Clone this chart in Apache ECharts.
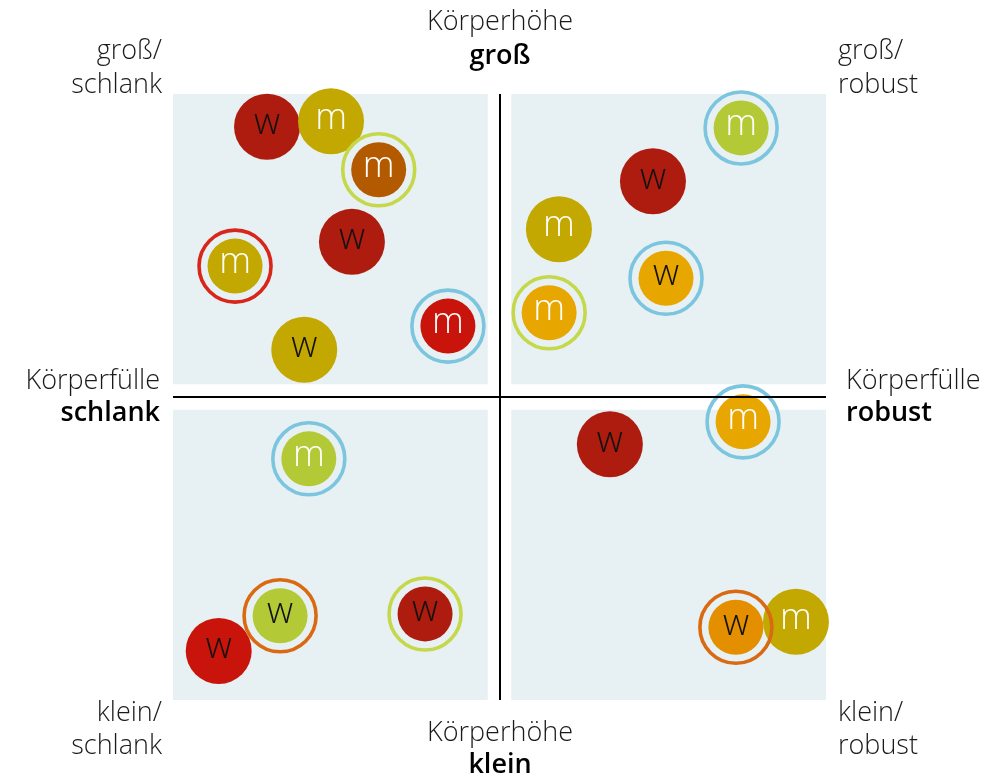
<!DOCTYPE html>
<html>
<head>
<meta charset="utf-8">
<script src="https://cdn.jsdelivr.net/npm/echarts@6/dist/echarts.min.js"></script>
<style>
  html, body { margin: 0; padding: 0; background: #fff; }
  #chart { width: 1005px; height: 781px; }
</style>
</head>
<body>
<div id="chart"></div>
<script>
// Personen: Geschlecht, Körperfülle (x), Körperhöhe (y), Farbe, Ring
const labels = ['w', 'm', 'm', 'w', 'm', 'm', 'w',
                'm', 'w', 'm', 'w', 'm',
                'm', 'w', 'w', 'w',
                'm', 'w', 'w', 'm'];
const fuelle = [14.4, 24.2, 31.5, 27.4, 9.5, 42.1, 20.1,
                87.0, 73.5, 59.1, 75.5, 57.6,
                20.8, 16.4, 7.0, 38.6,
                87.3, 66.9, 86.2, 95.4];
const hoehe = [94.6, 95.5, 87.5, 75.6, 71.6, 61.7, 57.8,
               94.4, 85.6, 77.7, 69.6, 63.9,
               39.8, 13.9, 8.1, 14.2,
               45.9, 42.2, 12.0, 12.9];
const fillKey = ['darkred', 'gold', 'brown', 'darkred', 'gold', 'red', 'gold',
                 'lime', 'darkred', 'gold', 'amber', 'amber',
                 'lime', 'lime', 'red', 'darkred',
                 'amber', 'darkred', 'orange', 'gold'];
const ringKey = [null, null, 'lime', null, 'red', 'blue', null,
                 'blue', null, null, 'blue', 'lime',
                 'blue', 'orange', null, 'lime',
                 'blue', null, 'orange', null];

const quadrants = ['I', 'II', 'III', 'IV'];

const fillColors = {
  darkred: '#AD1C0E', red: '#C8140A', gold: '#C2A800', brown: '#B35A00',
  lime: '#B3C936', amber: '#E8A600', orange: '#E48F00'
};
const ringColors = {
  blue: '#7CC5DE', lime: '#C5D84A', red: '#D8261A', orange: '#DA6A12'
};

const chart = echarts.init(document.getElementById('chart'));
const FONT = '"Open Sans", sans-serif';

const fills = labels.map((l, i) => ({
  value: [fuelle[i], hoehe[i]],
  symbolSize: ringKey[i] ? 55 : 66,
  itemStyle: { color: fillColors[fillKey[i]] },
  label: { color: l === 'm' ? '#fff' : '#111' },
  name: l
}));

const rings = labels.map((l, i) => ringKey[i] ? {
  value: [fuelle[i], hoehe[i]],
  itemStyle: { borderColor: ringColors[ringKey[i]] }
} : null).filter(d => d);

function txt(text, x, y, align, opts) {
  return {
    type: 'text', x: x, y: y, silent: true,
    style: Object.assign({
      text: text, textAlign: align, textVerticalAlign: 'middle',
      font: '300 27px ' + FONT, fill: '#1a1a1a'
    }, opts || {})
  };
}
const bold = { font: '600 27px ' + FONT, fill: '#000' };
const roman = { font: 'bold 19px "DejaVu Serif", serif', fill: '#111' };

const option = {
  animation: false,
  grid: { left: 173, right: 179, top: 94, bottom: 81 },
  xAxis: { type: 'value', min: 0, max: 100, show: false },
  yAxis: { type: 'value', min: 0, max: 100, show: false },
  graphic: [
    txt('Körperhöhe', 500, 22, 'center'),
    txt('groß', 500, 56, 'center', bold),
    txt('Körperhöhe', 500, 733, 'center'),
    txt('klein', 500, 765, 'center', bold),
    txt('Körperfülle', 160, 381, 'right'),
    txt('schlank', 160, 413, 'right', bold),
    txt('Körperfülle', 846, 381, 'left'),
    txt('robust', 846, 413, 'left', bold),
    txt('groß/', 162, 51, 'right'),
    txt('schlank', 162, 85, 'right'),
    txt('groß/', 838, 51, 'left'),
    txt('robust', 838, 85, 'left'),
    txt('klein/', 162, 713, 'right'),
    txt('schlank', 162, 746, 'right'),
    txt('klein/', 838, 713, 'left'),
    txt('robust', 838, 746, 'left'),
    txt(quadrants[0], 186, 438, 'left', roman),
    txt(quadrants[1], 186, 122, 'left', roman),
    txt(quadrants[2], 811, 438, 'right', roman),
    txt(quadrants[3], 811, 122, 'right', roman)
  ],
  series: [
    {
      type: 'scatter',
      data: fills,
      z: 3,
      itemStyle: { opacity: 1 },
      label: {
        show: true, position: 'inside', formatter: p => p.name,
        fontFamily: FONT, fontWeight: 300, fontSize: 36, offset: [0, -3]
      },
      markArea: {
        silent: true,
        itemStyle: { color: '#E7F0F2' },
        data: [
          [{ coord: [0, 52.1] }, { coord: [48.2, 100] }],
          [{ coord: [51.8, 52.1] }, { coord: [100, 100] }],
          [{ coord: [0, 0] }, { coord: [48.2, 47.9] }],
          [{ coord: [51.8, 0] }, { coord: [100, 47.9] }]
        ]
      },
      markLine: {
        silent: true, symbol: 'none', label: { show: false },
        lineStyle: { color: '#000', width: 2, type: 'solid', opacity: 1 },
        data: [
          [{ coord: [0, 50] }, { coord: [100, 50] }],
          [{ coord: [50, 0] }, { coord: [50, 100] }]
        ]
      }
    },
    {
      type: 'scatter',
      data: rings,
      z: 4,
      symbolSize: 72,
      silent: true,
      itemStyle: { color: 'rgba(0,0,0,0)', borderWidth: 3.6, opacity: 1 }
    }
  ]
};

chart.setOption(option);
window.addEventListener('resize', () => chart.resize());
</script>
</body>
</html>
